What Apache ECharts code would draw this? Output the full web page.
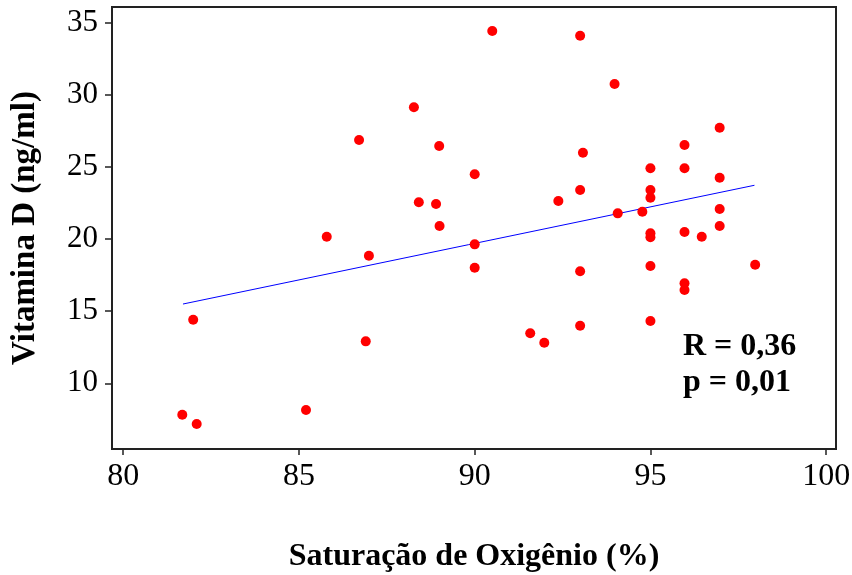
<!DOCTYPE html>
<html>
<head>
<meta charset="utf-8">
<script src="https://cdn.jsdelivr.net/npm/echarts@6/dist/echarts.min.js"></script>
<style>
html,body{margin:0;padding:0;background:#fff;}
#chart{width:852px;height:575px;}
</style>
</head>
<body>
<div id="chart"></div>
<script>
// saturacao de oxigenio (%) x vitamina D (ng/ml)
var satO2 = [81.68, 82.09, 81.99, 85.2, 85.79, 86.71, 86.99, 86.9, 88.27, 88.41,
    88.9, 88.99, 89.0, 90.0, 90.0, 90.0, 90.5, 91.58, 91.98, 92.38,
    93.0, 93.0, 93.08, 93.0, 93.0, 93.98, 94.07, 94.77, 95.0, 95.0,
    95.0, 95.0, 95.0, 95.0, 95.0, 95.97, 95.97, 95.97, 95.97, 95.97,
    96.46, 96.97, 96.97, 96.97, 96.97, 97.98];
var vitD = [7.82, 7.17, 14.41, 8.14, 20.17, 26.88, 18.85, 12.91, 29.15, 22.56,
    22.44, 26.46, 20.91, 24.5, 19.64, 18.02, 34.44, 13.47, 12.81, 22.65,
    34.12, 23.41, 26.0, 17.77, 13.99, 30.77, 21.79, 21.9, 24.92, 23.41,
    22.88, 20.41, 20.13, 18.14, 14.32, 26.53, 24.92, 20.5, 16.94, 16.47,
    20.17, 27.73, 24.26, 22.09, 20.91, 18.23];
// reta de regressao (extremos)
var retaX = [81.7, 97.96];
var retaY = [15.5, 23.74];
var xTicks = [80, 85, 90, 95, 100];
var yTicks = [10, 15, 20, 25, 30, 35];
var textoR = 'R = 0,36';
var textoP = 'p = 0,01';

var pontos = [];
for (var i = 0; i < satO2.length; i++) {
    pontos.push([satO2[i], vitD[i]]);
}
var reta = [];
for (var j = 0; j < retaX.length; j++) {
    reta.push([retaX[j], retaY[j]]);
}

var fonte = '"Liberation Serif", "DejaVu Serif", serif';

var option = {
    backgroundColor: '#fff',
    animation: false,
    grid: {
        left: 112,
        top: 7,
        right: 16,
        bottom: 126,
        outerBoundsMode: 'none',
        show: true,
        borderColor: '#222',
        borderWidth: 2
    },
    xAxis: {
        type: 'value',
        min: 79.68,
        max: 100.28,
        name: 'Saturação de Oxigênio (%)',
        nameLocation: 'middle',
        nameGap: 92,
        nameTextStyle: {
            fontFamily: fonte,
            fontWeight: 'bold',
            fontSize: 32,
            color: '#000'
        },
        axisLine: { show: true, onZero: false, lineStyle: { color: '#222', width: 2 } },
        axisTick: { show: true, customValues: xTicks, length: 6, lineStyle: { color: '#222', width: 1.5 } },
        axisLabel: {
            customValues: xTicks,
            margin: 12,
            fontFamily: fonte,
            fontSize: 32,
            color: '#000'
        },
        splitLine: { show: false }
    },
    yAxis: {
        type: 'value',
        min: 5.44,
        max: 36.11,
        name: 'Vitamina D (ng/ml)',
        nameLocation: 'middle',
        nameGap: 70,
        nameTextStyle: {
            fontFamily: fonte,
            fontWeight: 'bold',
            fontSize: 33,
            color: '#000'
        },
        axisLine: { show: true, onZero: false, lineStyle: { color: '#222', width: 2 } },
        axisTick: { show: true, customValues: yTicks, length: 7, lineStyle: { color: '#222', width: 1.5 } },
        axisLabel: {
            customValues: yTicks,
            margin: 14,
            fontFamily: fonte,
            fontSize: 31,
            color: '#000'
        },
        splitLine: { show: false }
    },
    graphic: [
        {
            type: 'text',
            left: 683,
            top: 331,
            style: { text: textoR, font: 'bold 32px ' + fonte, fill: '#000' }
        },
        {
            type: 'text',
            left: 683,
            top: 367,
            style: { text: textoP, font: 'bold 32px ' + fonte, fill: '#000' }
        }
    ],
    series: [
        {
            name: 'reta',
            type: 'line',
            data: reta,
            symbol: 'none',
            lineStyle: { color: '#0000ff', width: 1 },
            z: 2
        },
        {
            name: 'pontos',
            type: 'scatter',
            data: pontos,
            symbol: 'circle',
            symbolSize: 10,
            itemStyle: { color: '#ff0000', opacity: 1 },
            z: 3
        }
    ]
};

echarts.init(document.getElementById('chart')).setOption(option);
</script>
</body>
</html>
